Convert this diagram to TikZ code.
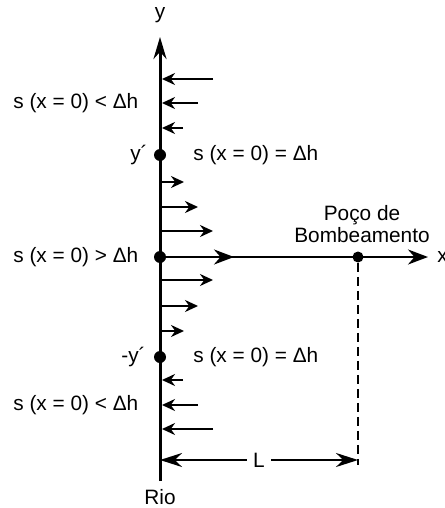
\documentclass[tikz,border=0pt]{standalone}
\usepackage{fontspec}
\setmainfont{Liberation Sans}
\usetikzlibrary{arrows.meta}
\begin{document}
\begin{tikzpicture}[x=0.5pt,y=-0.5pt,
  axisline/.style={line width=1.5pt},
  flow/.style={line width=1pt,-{Stealth[length=6.5pt,width=6pt]}},
  bigtip/.style={line width=1.2pt,-{Stealth[length=10pt,width=7.5pt]}},
  lbl/.style={font=\fontsize{10.4}{12}\selectfont,inner sep=0pt},
  dot/.style={circle,fill=black,inner sep=0pt,minimum size=6pt},
  welldot/.style={circle,fill=black,inner sep=0pt,minimum size=5.5pt}]
\useasboundingbox (0,0) rectangle (444,508);
% vertical axis (river)
\coordinate (ybot) at (160,481);
\coordinate (ytop) at (160,37);
\draw[axisline,-{Stealth[length=11pt,width=6.5pt]}] (ybot) -- (ytop);
\node[lbl] (ylab) at (160,15) {y};
\node[lbl] (rio) at (160,497) {Rio};
% points on axis
\node[dot] (yp) at (160,155) {};
\node[dot] (o) at (160,257) {};
\node[dot] (ym) at (160,357) {};
\node[lbl,anchor=east] (yplab) at (148,155) {y´};
\node[lbl,anchor=east] (ymlab) at (146,357) {-y´};
% x axis
\coordinate (xtip) at (428,257);
\coordinate (xmid) at (234,257);
\node[welldot] (well) at (358,257) {};
\draw[bigtip] (o) -- (xtip);
\draw[bigtip] (o) -- (xmid);
\node[lbl,anchor=west] (xlab) at (437,257) {x};
\node[lbl,align=center] (poco) at (362,224) {Poço de\\[-1pt]Bombeamento};
% upper inflow arrows (toward river)
\foreach \n/\yy/\xs in {u1/79/213,u2/103/198,u3/128/183}{
  \coordinate (\n s) at (\xs,\yy);
  \coordinate (\n e) at (162,\yy);
  \draw[flow] (\n s) -- (\n e);
}
% outflow arrows (away from river)
\foreach \n/\yy/\xe in {r1/182/184,r2/207/198,r3/231/213,r4/280/213,r5/306/198,r6/331/184}{
  \coordinate (\n s) at (160,\yy);
  \coordinate (\n e) at (\xe,\yy);
  \draw[flow] (\n s) -- (\n e);
}
% lower inflow arrows
\foreach \n/\yy/\xs in {d1/380/183,d2/405/198,d3/429/213}{
  \coordinate (\n s) at (\xs,\yy);
  \coordinate (\n e) at (162,\yy);
  \draw[flow] (\n s) -- (\n e);
}
% labels
\node[lbl,anchor=west] (s1) at (13,103) {s (x = 0) < Δh};
\node[lbl,anchor=west] (s2) at (193,155) {s (x = 0) = Δh};
\node[lbl,anchor=west] (s3) at (13,257) {s (x = 0) > Δh};
\node[lbl,anchor=west] (s4) at (193,357) {s (x = 0) = Δh};
\node[lbl,anchor=west] (s5) at (13,405) {s (x = 0) < Δh};
% dashed line and L dimension
\coordinate (wellbot) at (358,465);
\draw[line width=1pt,dash pattern=on 4.5pt off 2.5pt] (well) -- (wellbot);
\coordinate (Ll) at (160,460);
\coordinate (Lr) at (358,460);
\node[lbl,inner xsep=3pt] (L) at (259,460) {L};
\draw[line width=1pt,-{Stealth[length=11pt,width=7pt]}] (L) -- (Ll);
\draw[line width=1pt,-{Stealth[length=11pt,width=7pt]}] (L) -- (Lr);
\end{tikzpicture}
\end{document}
